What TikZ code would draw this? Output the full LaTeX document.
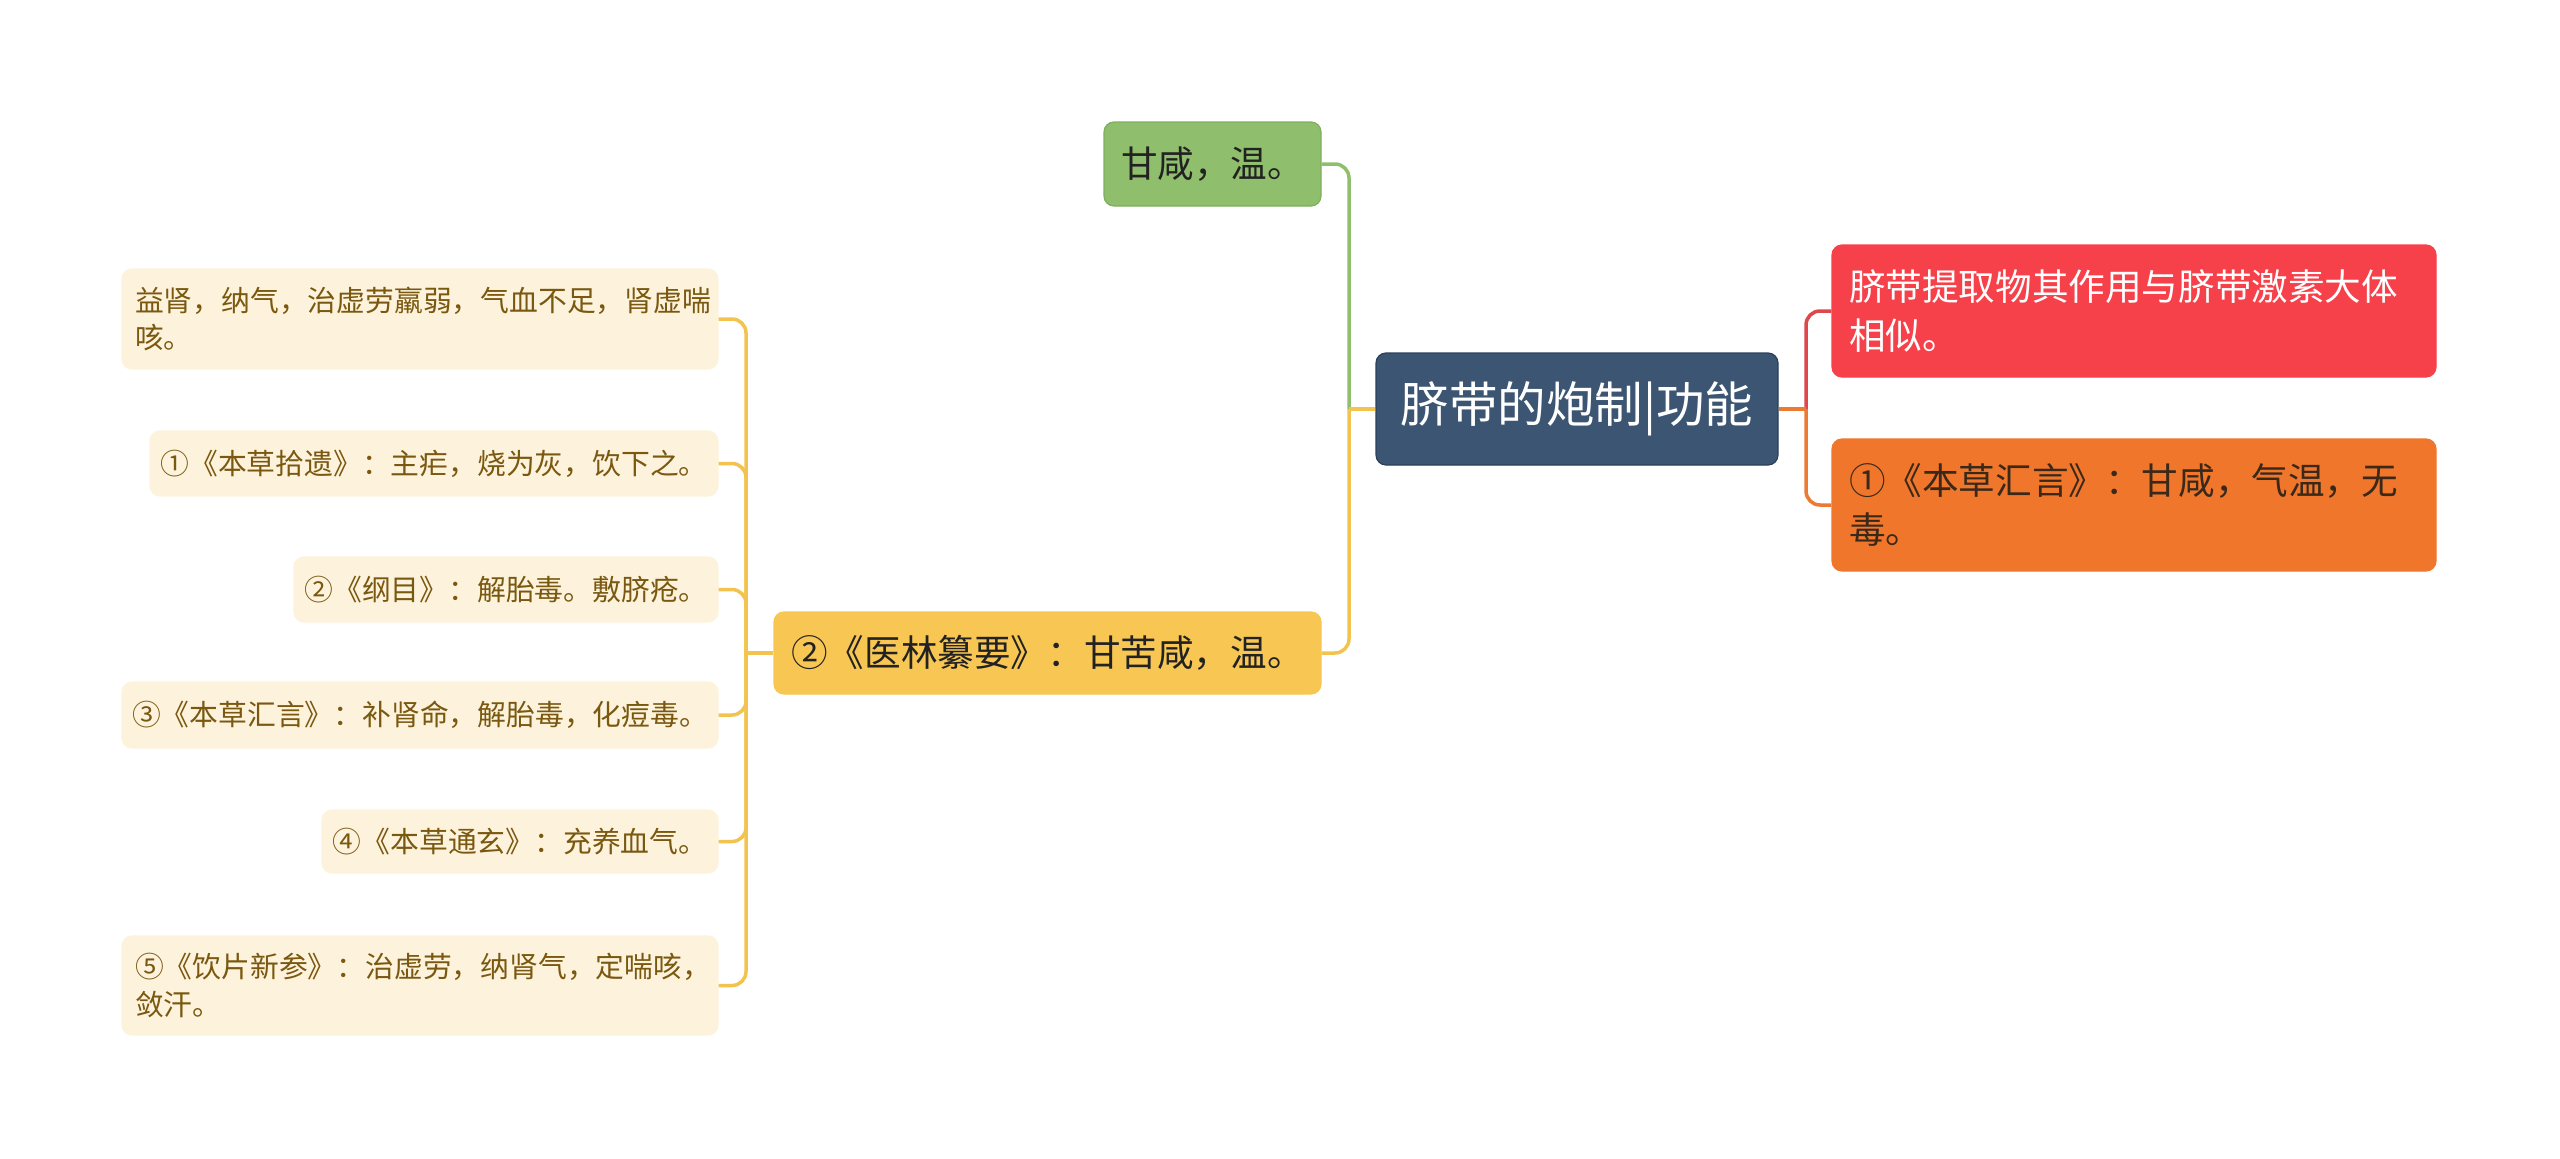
\documentclass[tikz,border=0pt]{standalone}
\usepackage{fontspec}
\setmainfont{Noto Sans CJK SC}
\definecolor{rootc}{HTML}{3B5572}
\definecolor{rootd}{HTML}{2C4058}
\definecolor{greenc}{HTML}{8FBE6C}
\definecolor{greend}{HTML}{7FAF5E}
\definecolor{yellowc}{HTML}{F8C653}
\definecolor{yellowl}{HTML}{F2C34E}
\definecolor{leafc}{HTML}{FDF3DC}
\definecolor{leaft}{HTML}{7A5810}
\definecolor{redc}{HTML}{F7414A}
\definecolor{redl}{HTML}{E0474D}
\definecolor{orangec}{HTML}{F0762C}
\definecolor{orangel}{HTML}{EC7A33}
\definecolor{darkt}{HTML}{222222}
\definecolor{orangt}{HTML}{3A2818}
\tikzset{
  box/.style={rounded corners=10pt, inner sep=0pt, line width=1.2pt},
  rootbox/.style={box, fill=rootc, draw=rootd, text=white, font=\fontsize{48.5}{60}\selectfont},
  lvtwo/.style={box, font=\fontsize{36.6}{49}\selectfont},
  leafbox/.style={box, fill=leafc, draw=leafc, text=leaft, font=\fontsize{28.8}{37.5}\selectfont},
  link/.style={line width=3.5pt, rounded corners=14pt},
  stub/.style={line width=3.5pt},
}
\begin{document}
\begin{tikzpicture}[x=1pt,y=-1pt]
\useasboundingbox (0,0) rectangle (2560,1159);
% root
\node[rootbox, minimum width=402pt, minimum height=112pt] (root) at (1577,409) {脐带的炮制|功能};
% level two left
\node[lvtwo, fill=greenc, draw=greend, text=darkt, minimum width=217pt, minimum height=84pt] (gx) at (1212.5,164) {甘咸，温。};
\node[lvtwo, fill=yellowc, draw=yellowc, text=darkt, minimum width=547pt, minimum height=82pt] (yl) at (1047.5,653) {②《医林纂要》：甘苦咸，温。};
% level two right
\node[lvtwo, fill=redc, draw=redc, text=white, minimum width=604pt, minimum height=132pt, text width=570pt, align=left] (rd) at (2134,311) {脐带提取物其作用与脐带激素大体\\相似。};
\node[lvtwo, fill=orangec, draw=orangec, text=orangt, minimum width=604pt, minimum height=132pt, text width=570pt, align=left] (og) at (2134,505) {①《本草汇言》：甘咸，气温，无\\毒。};
% leaves
\node[leafbox, minimum width=596pt, minimum height=100pt, text width=570pt, align=left] (l1) at (420,319) {益肾，纳气，治虚劳羸弱，气血不足，肾虚喘\\咳。};
\node[leafbox, minimum width=568pt, minimum height=65pt] (l2) at (434,463.5) {①《本草拾遗》：主疟，烧为灰，饮下之。};
\node[leafbox, minimum width=424pt, minimum height=65pt] (l3) at (506,589.5) {②《纲目》：解胎毒。敷脐疮。};
\node[leafbox, minimum width=596pt, minimum height=66pt] (l4) at (420,715) {③《本草汇言》：补肾命，解胎毒，化痘毒。};
\node[leafbox, minimum width=396pt, minimum height=63pt] (l5) at (520,841.5) {④《本草通玄》：充养血气。};
\node[leafbox, minimum width=596pt, minimum height=99pt, text width=570pt, align=left] (l6) at (420,985.5) {⑤《饮片新参》：治虚劳，纳肾气，定喘咳，\\敛汗。};
% junctions
\coordinate (jl) at (1349,409);
\coordinate (jr) at (1806,409);
\coordinate (jy) at (746,653);
% connectors
\draw[link, greenc] (jl) |- (gx.east);
\draw[link, yellowl] (jl) |- (yl.east);
\draw[stub, yellowl] (root.west) -- (jl);
\draw[link, redl] (jr) |- (rd.west);
\draw[link, orangel] (jr) |- (og.west);
\draw[stub, orangel] (root.east) -- (jr);
\draw[stub, yellowl] (yl.west) -- (jy);
\foreach \n in {l1,l2,l3,l4,l5,l6} {
  \draw[link, yellowl] (jy) |- (\n.east);
}
\end{tikzpicture}
\end{document}
